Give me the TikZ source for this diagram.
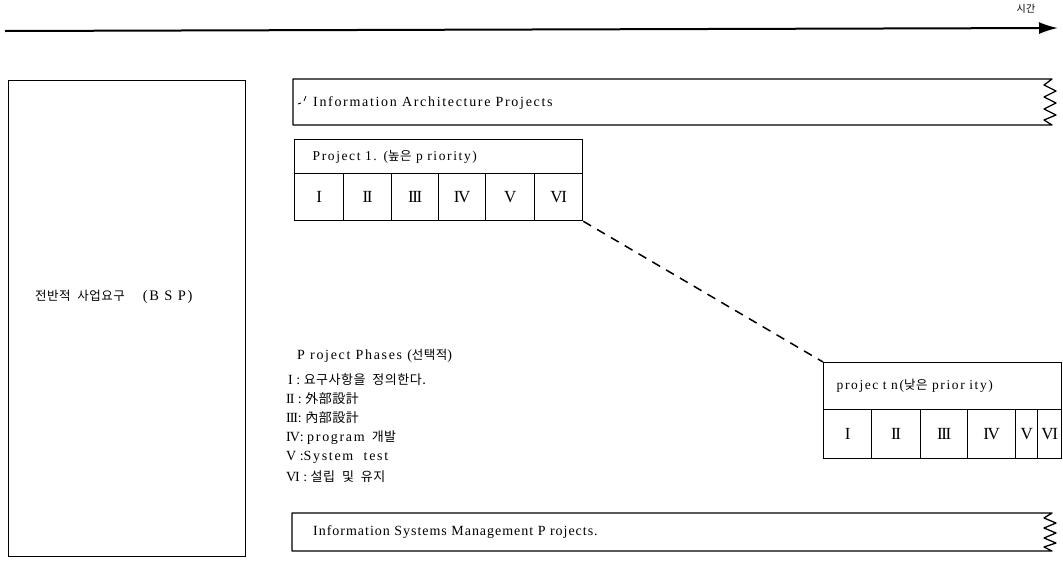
\documentclass[tikz,border=0pt]{standalone}
\usepackage{fontspec}
\setmainfont{Liberation Serif}
\newfontfamily\spaced{Liberation Serif}[LetterSpace=12]
\newfontfamily\spacedb{Liberation Serif}[LetterSpace=7]
\newfontfamily\numf{Liberation Serif}[LetterSpace=-8]
\newfontfamily\kr{Noto Sans CJK KR}[LetterSpace=4]
\usetikzlibrary{arrows.meta}

\begin{document}
\begin{tikzpicture}[x=1pt,y=-1pt,
  frame/.style={draw, line width=1.3pt},
  cell/.style={frame, anchor=north west, inner sep=0pt, font=\numf\fontsize{17}{17}\selectfont},
  titlebox/.style={frame, anchor=north west, inner ysep=0pt, align=left,
    font=\spaced\fontsize{13.5}{14}\selectfont},
  txt/.style={anchor=west, inner sep=0pt, font=\spaced\fontsize{14}{15}\selectfont},
  phase/.style={anchor=west, inner sep=0pt, font=\fontsize{14}{15}\selectfont},
]
\newcommand\hg[1]{{\kr\fontsize{12.5}{13}\selectfont #1}}
\newcommand\hgl[1]{{\kr\fontsize{13}{14}\selectfont #1}}
\useasboundingbox (0,0) rectangle (1063,560);

% time axis
\coordinate (t0) at (5,31);
\coordinate (t1) at (1058,28);
\draw[line width=2pt, -{Latex[length=19pt,width=12pt]}] (t0) -- (t1);
\node[inner sep=0pt, font=\kr\fontsize{10}{10}\selectfont] (time) at (1026,9) {시간};

% overall business requirements
\node[frame, anchor=north west, minimum width=237pt, minimum height=476pt, inner sep=0pt] (bsp) at (8,80) {};
\node[anchor=west, inner sep=0pt] (bsptext) at (35,297)
  {{\kr\fontsize{12.5}{13}\selectfont 전반적\ \ 사업요구}\hspace{18pt}{\spaced\fontsize{14.5}{15}\selectfont (B S P)}};

% information architecture band
\draw[frame, line join=round]
  (293,79) -- (1052,79) -- (1044,85) -- (1056,91) -- (1044,97) -- (1056,103)
  -- (1044,109) -- (1056,115) -- (1044,120) -- (1052,125) -- (293,125) -- cycle;
\node[txt] (iap) at (313,103) {Information Architecture Projects};
\draw[line width=0.8pt] (298,104) -- (301,103) (304,101) -- (306,96);

% project 1
\node[titlebox, minimum width=288pt, minimum height=34pt, text width=252pt, inner xsep=18pt] (p1) at (294,139)
  {Project 1. (\hg{높은} p riority)};
\node[cell, minimum width=49pt, minimum height=47pt] (a1) at (294,173) {I};
\node[cell, minimum width=48pt, minimum height=47pt] (a2) at (343,173) {II};
\node[cell, minimum width=47pt, minimum height=47pt] (a3) at (391,173) {III};
\node[cell, minimum width=47pt, minimum height=47pt] (a4) at (438,173) {IV};
\node[cell, minimum width=49pt, minimum height=47pt] (a5) at (485,173) {V};
\node[cell, minimum width=48pt, minimum height=47pt] (a6) at (534,173) {VI};

% project n
\node[titlebox, minimum width=238pt, minimum height=47pt, text width=212pt, inner xsep=13pt] (pn) at (823,362)
  {projec t n(\hg{낮은} prior ity)};
\node[cell, minimum width=48pt, minimum height=49pt] (b1) at (823,409) {I};
\node[cell, minimum width=49pt, minimum height=49pt] (b2) at (871,409) {II};
\node[cell, minimum width=47pt, minimum height=49pt] (b3) at (920,409) {III};
\node[cell, minimum width=48pt, minimum height=49pt] (b4) at (967,409) {IV};
\node[cell, minimum width=22pt, minimum height=49pt] (b5) at (1015,409) {V};
\node[cell, minimum width=24pt, minimum height=49pt] (b6) at (1037,409) {VI};

\draw[line width=1.5pt, dash pattern=on 9pt off 7pt] (a6.south east) -- (pn.north west);

% phase legend
\node[txt] (ph) at (297,356) {P roject Phases (\hg{선택적})};
\node[phase] (l1) at (288,380) {I : \hgl{요구사항을\ \ 정의한다.}};
\node[phase] (l2) at (286,399) {{\numf II} : \hgl{外部設計}};
\node[phase] (l3) at (286,418) {{\numf III}: \hgl{內部設計}};
\node[phase] (l4) at (286,438) {{\numf IV}: {\spaced program}\ \ \hgl{개발}};
\node[phase] (l5) at (286,457) {V :{\spaced System\ \ test}};
\node[phase] (l6) at (286,477) {{\numf VI} : \hgl{설립\ \ 및\ \ 유지}};

% information systems management band
\draw[frame, line join=round]
  (292,513) -- (1052,513) -- (1044,518) -- (1056,523) -- (1044,528) -- (1056,533)
  -- (1044,538) -- (1056,543) -- (1044,547) -- (1052,551) -- (292,551) -- cycle;
\node[anchor=west, inner sep=0pt, font=\spacedb\fontsize{14}{15}\selectfont] (ism) at (313,532)
  {Information Systems Management P rojects.};
\end{tikzpicture}
\end{document}
